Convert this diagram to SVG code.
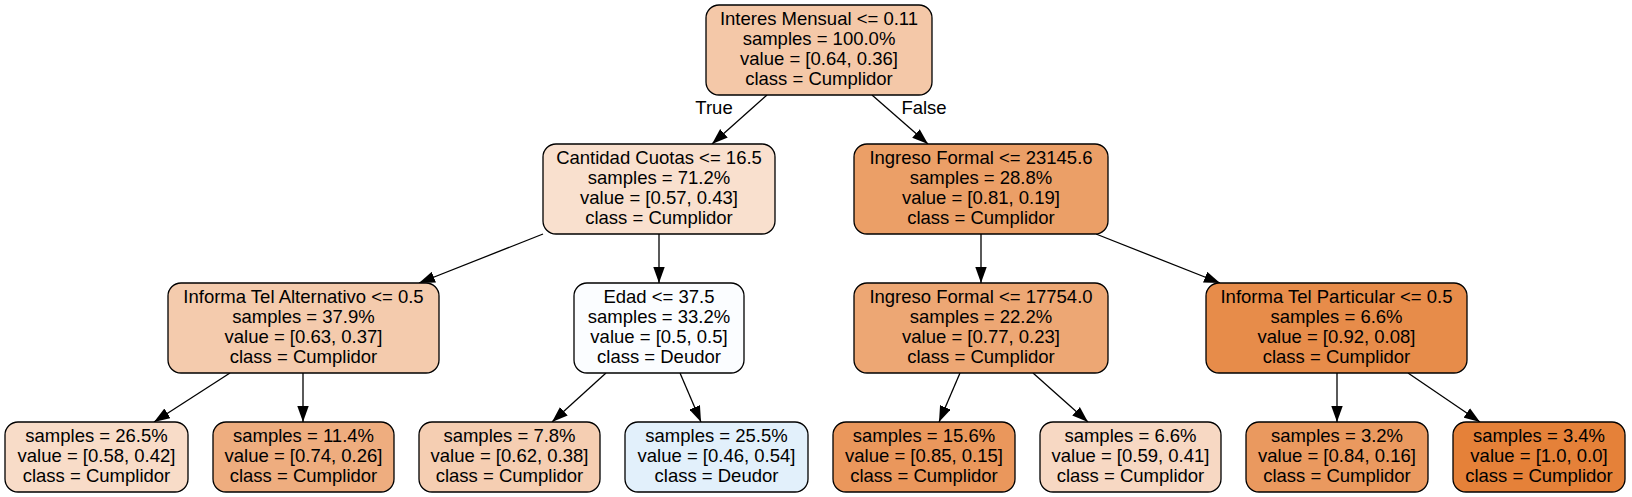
<svg xmlns="http://www.w3.org/2000/svg" width="1632" height="497" viewBox="0 0 1632 497">
<style>
.n rect{stroke:#000;stroke-width:1.3}
text{font-family:"Liberation Sans",Arial,Helvetica,sans-serif;font-size:18.5px;fill:#000;text-anchor:middle}
.e line{stroke:#000;stroke-width:1.3;marker-end:url(#ah)}
</style>
<defs>
<marker id="ah" markerUnits="userSpaceOnUse" markerWidth="16" markerHeight="12" viewBox="0 0 14 10" refX="14" refY="5" orient="auto">
<path d="M0,0 L14,5 L0,10 Z" fill="#000"/>
</marker>
</defs>
<rect width="1632" height="497" fill="#fff"/>
<g id="edges" class="e">
<line x1="767" y1="95" x2="712" y2="144"/>
<line x1="872" y1="95" x2="928" y2="144"/>
<line x1="543" y1="234" x2="419" y2="283"/>
<line x1="659" y1="234" x2="659" y2="283"/>
<line x1="981" y1="234" x2="981" y2="283"/>
<line x1="1096" y1="234" x2="1220" y2="283"/>
<line x1="230" y1="373" x2="154" y2="422"/>
<line x1="303" y1="373" x2="303" y2="422"/>
<line x1="606" y1="373" x2="552" y2="422"/>
<line x1="680" y1="373" x2="701" y2="422"/>
<line x1="960" y1="373" x2="939" y2="422"/>
<line x1="1033" y1="373" x2="1088" y2="422"/>
<line x1="1337" y1="373" x2="1337" y2="422"/>
<line x1="1408" y1="373" x2="1480" y2="422"/>
<text x="714" y="114">True</text>
<text x="924" y="114">False</text>
</g>
<g id="n0" class="n">
<rect x="706" y="5" width="226" height="90" rx="13" fill="#f4c8a8"/>
<text x="819" y="25">Interes Mensual &lt;= 0.11</text>
<text x="819" y="45">samples = 100.0%</text>
<text x="819" y="65">value = [0.64, 0.36]</text>
<text x="819" y="85">class = Cumplidor</text>
</g>
<g id="n1" class="n">
<rect x="543" y="144" width="232" height="90" rx="13" fill="#f9e0ce"/>
<text x="659" y="164">Cantidad Cuotas &lt;= 16.5</text>
<text x="659" y="184">samples = 71.2%</text>
<text x="659" y="204">value = [0.57, 0.43]</text>
<text x="659" y="224">class = Cumplidor</text>
</g>
<g id="n2" class="n">
<rect x="854" y="144" width="254" height="90" rx="13" fill="#eb9f67"/>
<text x="981" y="164">Ingreso Formal &lt;= 23145.6</text>
<text x="981" y="184">samples = 28.8%</text>
<text x="981" y="204">value = [0.81, 0.19]</text>
<text x="981" y="224">class = Cumplidor</text>
</g>
<g id="n3" class="n">
<rect x="168" y="283" width="271" height="90" rx="13" fill="#f4cbad"/>
<text x="303.5" y="303">Informa Tel Alternativo &lt;= 0.5</text>
<text x="303.5" y="323">samples = 37.9%</text>
<text x="303.5" y="343">value = [0.63, 0.37]</text>
<text x="303.5" y="363">class = Cumplidor</text>
</g>
<g id="n4" class="n">
<rect x="574" y="283" width="170" height="90" rx="13" fill="#fbfdff"/>
<text x="659" y="303">Edad &lt;= 37.5</text>
<text x="659" y="323">samples = 33.2%</text>
<text x="659" y="343">value = [0.5, 0.5]</text>
<text x="659" y="363">class = Deudor</text>
</g>
<g id="n5" class="n">
<rect x="854" y="283" width="254" height="90" rx="13" fill="#eda774"/>
<text x="981" y="303">Ingreso Formal &lt;= 17754.0</text>
<text x="981" y="323">samples = 22.2%</text>
<text x="981" y="343">value = [0.77, 0.23]</text>
<text x="981" y="363">class = Cumplidor</text>
</g>
<g id="n6" class="n">
<rect x="1206" y="283" width="261" height="90" rx="13" fill="#e78c4a"/>
<text x="1336.5" y="303">Informa Tel Particular &lt;= 0.5</text>
<text x="1336.5" y="323">samples = 6.6%</text>
<text x="1336.5" y="343">value = [0.92, 0.08]</text>
<text x="1336.5" y="363">class = Cumplidor</text>
</g>
<g id="l1" class="n">
<rect x="5" y="422" width="183" height="70" rx="13" fill="#f8dcc8"/>
<text x="96.5" y="442">samples = 26.5%</text>
<text x="96.5" y="462">value = [0.58, 0.42]</text>
<text x="96.5" y="482">class = Cumplidor</text>
</g>
<g id="l2" class="n">
<rect x="213" y="422" width="181" height="70" rx="13" fill="#eead7f"/>
<text x="303.5" y="442">samples = 11.4%</text>
<text x="303.5" y="462">value = [0.74, 0.26]</text>
<text x="303.5" y="482">class = Cumplidor</text>
</g>
<g id="l3" class="n">
<rect x="419" y="422" width="181" height="70" rx="13" fill="#f5ceb2"/>
<text x="509.5" y="442">samples = 7.8%</text>
<text x="509.5" y="462">value = [0.62, 0.38]</text>
<text x="509.5" y="482">class = Cumplidor</text>
</g>
<g id="l4" class="n">
<rect x="625" y="422" width="183" height="70" rx="13" fill="#e2f0fb"/>
<text x="716.5" y="442">samples = 25.5%</text>
<text x="716.5" y="462">value = [0.46, 0.54]</text>
<text x="716.5" y="482">class = Deudor</text>
</g>
<g id="l5" class="n">
<rect x="833" y="422" width="182" height="70" rx="13" fill="#ea975c"/>
<text x="924" y="442">samples = 15.6%</text>
<text x="924" y="462">value = [0.85, 0.15]</text>
<text x="924" y="482">class = Cumplidor</text>
</g>
<g id="l6" class="n">
<rect x="1040" y="422" width="181" height="70" rx="13" fill="#f7d8c3"/>
<text x="1130.5" y="442">samples = 6.6%</text>
<text x="1130.5" y="462">value = [0.59, 0.41]</text>
<text x="1130.5" y="482">class = Cumplidor</text>
</g>
<g id="l7" class="n">
<rect x="1246" y="422" width="182" height="70" rx="13" fill="#ea995f"/>
<text x="1337" y="442">samples = 3.2%</text>
<text x="1337" y="462">value = [0.84, 0.16]</text>
<text x="1337" y="482">class = Cumplidor</text>
</g>
<g id="l8" class="n">
<rect x="1453" y="422" width="172" height="70" rx="13" fill="#e58139"/>
<text x="1539" y="442">samples = 3.4%</text>
<text x="1539" y="462">value = [1.0, 0.0]</text>
<text x="1539" y="482">class = Cumplidor</text>
</g>
</svg>
